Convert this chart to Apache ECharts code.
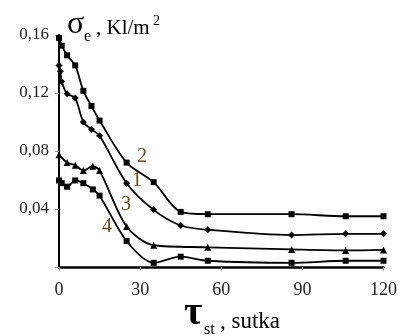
<!DOCTYPE html>
<html>
<head>
<meta charset="utf-8">
<script src="https://cdn.jsdelivr.net/npm/echarts@6/dist/echarts.min.js"></script>
<style>html,body{margin:0;padding:0;background:#fff}#c{width:400px;height:336px}</style>
</head>
<body>
<div id="c"></div>
<script>
// Data (x in days, y in Kl/m2)
const xTicks = [0, 30, 60, 90, 120];
const yTicks = ['0,04', '0,08', '0,12', '0,16'];

const x2 = [0, 1, 3, 6, 9, 12, 15, 25, 35, 45, 55, 86, 106, 120];
const y2 = [0.158, 0.1526, 0.146, 0.139, 0.1215, 0.111, 0.101, 0.072, 0.0585, 0.038, 0.0364, 0.0364, 0.035, 0.035];

const x1 = [0, 0.5, 1, 3, 6, 9, 12, 15, 25, 35, 45, 55, 86, 106, 120];
const y1 = [0.139, 0.135, 0.128, 0.1195, 0.1165, 0.100, 0.095, 0.0905, 0.0578, 0.0394, 0.0286, 0.0257, 0.022, 0.0229, 0.0229];

const x3 = [0, 3, 6, 9, 12.5, 15, 25, 35, 55, 86, 106, 120];
const y3 = [0.0775, 0.072, 0.0702, 0.0665, 0.0695, 0.0665, 0.0279, 0.015, 0.0136, 0.0121, 0.0114, 0.0118];

const x4 = [0, 1, 3, 6, 9, 12.5, 15, 25, 35, 45, 55, 86, 106, 120];
const y4 = [0.0597, 0.0578, 0.0554, 0.0597, 0.0578, 0.0535, 0.0492, 0.0179, 0.0029, 0.0071, 0.0043, 0.0029, 0.0043, 0.0043];

const zip = (xs, ys) => xs.map((x, i) => [x, ys[i]]);

const chart = echarts.init(document.getElementById('c'), null, {renderer: 'canvas'});
const serif = '"Liberation Serif", "Times New Roman", serif';
const lineStyle = {color: '#000', width: 1.8};
function mk(name, xs, ys, symbol, size) {
  return {
    name: name, type: 'line', smooth: 0.3, data: zip(xs, ys),
    symbol: symbol, symbolSize: size, showSymbol: true,
    lineStyle: lineStyle, itemStyle: {color: '#000'}, z: 3
  };
}
function txt(t, x, y, size, opts) {
  return {
    type: 'text', z: 10,
    style: Object.assign({
      text: t, x: x, y: y, fontFamily: serif, fontSize: size, fill: '#000',
      align: 'left', verticalAlign: 'middle'
    }, opts || {})
  };
}

chart.setOption({
  animation: false,
  grid: {left: 59, right: 14, top: 35, bottom: 69},
  xAxis: {
    type: 'value', min: 0, max: 120, interval: 30,
    axisLine: {show: true, lineStyle: {color: '#000', width: 2.5}},
    axisTick: {show: true, inside: false, length: 4, lineStyle: {color: '#999', width: 1}},
    axisLabel: {
      margin: 14, color: '#222', fontFamily: serif, fontSize: 18,
      formatter: v => xTicks.indexOf(v) >= 0 ? String(v) : ''
    },
    splitLine: {show: false}
  },
  yAxis: {
    type: 'value', min: 0, max: 0.16, interval: 0.04,
    axisLine: {show: true, lineStyle: {color: '#000', width: 2}},
    axisTick: {show: true, inside: false, length: 4, lineStyle: {color: '#999', width: 1}},
    axisLabel: {
      margin: 10, color: '#222', fontFamily: serif, fontSize: 17,
      formatter: v => {
        const i = Math.round(v / 0.04);
        return i >= 1 ? yTicks[i - 1] : '';
      }
    },
    splitLine: {show: false}
  },
  series: [
    mk('2', x2, y2, 'rect', 6),
    mk('1', x1, y1, 'diamond', 7),
    mk('3', x3, y3, 'triangle', 7),
    mk('4', x4, y4, 'rect', 6)
  ],
  graphic: [
    txt('2', 137, 157, 20, {fill: '#6a4818'}),
    txt('1', 132, 181, 20, {fill: '#6a4818'}),
    txt('3', 121, 205, 20, {fill: '#6a4818'}),
    txt('4', 102, 227, 20, {fill: '#6a4818'}),
    // y-axis title: σe , Kl/m²
    txt('σ', 67, 25, 32),
    txt('e', 84, 37, 16),
    txt(', Kl/m', 96, 28, 21),
    txt('2', 153, 21, 14),
    // x-axis title: τst , sutka
    txt('τ', 184, 314, 40, {fontWeight: 'bold'}),
    txt('st', 204, 330, 16),
    txt(', sutka', 220, 322, 23)
  ]
});
</script>
</body>
</html>
